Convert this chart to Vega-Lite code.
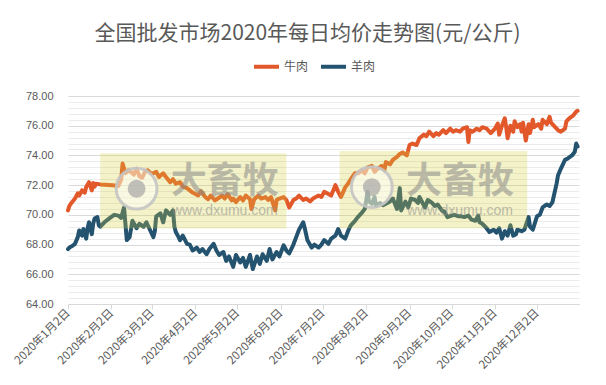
{
"$schema": "https://vega.github.io/schema/vega-lite/v6.json",
"width": 511, "height": 208,
"autosize": {"type": "none"},
"padding": {"left": 68, "top": 96, "right": 27, "bottom": 81},
"background": "white",
"title": {"text": "全国批发市场2020年每日均价走势图(元/公斤)", "fontSize": 21, "color": "#595959", "font": "Noto Sans CJK SC", "fontWeight": "normal", "anchor": "middle", "frame": "group", "offset": 8, "dx": -16},
"config": {"view": {"stroke": null}, "font": "Noto Sans CJK SC"},
"resolve": {"axis": {"y": "independent"}},
"layer": [
{
"data": {"format": {"parse": {"d": "date:'%Y-%m-%d'"}}, "values": [
{"d":"2020-01-02","s":"牛肉","v":70.3},{"d":"2020-01-03","s":"牛肉","v":70.6},{"d":"2020-01-04","s":"牛肉","v":70.75},{"d":"2020-01-07","s":"牛肉","v":71.1},{"d":"2020-01-09","s":"牛肉","v":71.45},{"d":"2020-01-10","s":"牛肉","v":71.3},{"d":"2020-01-12","s":"牛肉","v":71.65},{"d":"2020-01-14","s":"牛肉","v":71.5},{"d":"2020-01-15","s":"牛肉","v":71.87},{"d":"2020-01-17","s":"牛肉","v":72.2},{"d":"2020-01-19","s":"牛肉","v":71.65},{"d":"2020-01-20","s":"牛肉","v":72.15},{"d":"2020-01-21","s":"牛肉","v":71.9},{"d":"2020-01-22","s":"牛肉","v":72.1},{"d":"2020-01-25","s":"牛肉","v":72.05},{"d":"2020-02-03","s":"牛肉","v":72.0},{"d":"2020-02-07","s":"牛肉","v":71.95},{"d":"2020-02-09","s":"牛肉","v":72.4},{"d":"2020-02-10","s":"牛肉","v":73.45},{"d":"2020-02-12","s":"牛肉","v":72.8},{"d":"2020-02-14","s":"牛肉","v":73.0},{"d":"2020-02-16","s":"牛肉","v":72.9},{"d":"2020-02-18","s":"牛肉","v":72.7},{"d":"2020-02-20","s":"牛肉","v":73.1},{"d":"2020-02-22","s":"牛肉","v":72.6},{"d":"2020-02-24","s":"牛肉","v":72.5},{"d":"2020-02-26","s":"牛肉","v":72.9},{"d":"2020-02-28","s":"牛肉","v":73.0},{"d":"2020-03-01","s":"牛肉","v":72.8},{"d":"2020-03-03","s":"牛肉","v":72.8},{"d":"2020-03-05","s":"牛肉","v":72.9},{"d":"2020-03-07","s":"牛肉","v":72.55},{"d":"2020-03-10","s":"牛肉","v":72.8},{"d":"2020-03-12","s":"牛肉","v":72.55},{"d":"2020-03-15","s":"牛肉","v":72.2},{"d":"2020-03-17","s":"牛肉","v":72.4},{"d":"2020-03-19","s":"牛肉","v":72.1},{"d":"2020-03-22","s":"牛肉","v":72.2},{"d":"2020-03-24","s":"牛肉","v":71.9},{"d":"2020-03-27","s":"牛肉","v":71.8},{"d":"2020-03-29","s":"牛肉","v":71.65},{"d":"2020-03-31","s":"牛肉","v":71.5},{"d":"2020-04-04","s":"牛肉","v":71.3},{"d":"2020-04-06","s":"牛肉","v":71.6},{"d":"2020-04-09","s":"牛肉","v":71.2},{"d":"2020-04-11","s":"牛肉","v":71.05},{"d":"2020-04-13","s":"牛肉","v":71.3},{"d":"2020-04-16","s":"牛肉","v":70.97},{"d":"2020-04-18","s":"牛肉","v":71.1},{"d":"2020-04-21","s":"牛肉","v":71.3},{"d":"2020-04-23","s":"牛肉","v":71.1},{"d":"2020-04-25","s":"牛肉","v":71.4},{"d":"2020-04-28","s":"牛肉","v":70.97},{"d":"2020-04-29","s":"牛肉","v":71.1},{"d":"2020-05-01","s":"牛肉","v":70.86},{"d":"2020-05-04","s":"牛肉","v":71.2},{"d":"2020-05-06","s":"牛肉","v":70.97},{"d":"2020-05-08","s":"牛肉","v":71.3},{"d":"2020-05-11","s":"牛肉","v":71.05},{"d":"2020-05-12","s":"牛肉","v":70.4},{"d":"2020-05-14","s":"牛肉","v":71.05},{"d":"2020-05-17","s":"牛肉","v":71.3},{"d":"2020-05-19","s":"牛肉","v":71.1},{"d":"2020-05-22","s":"牛肉","v":71.2},{"d":"2020-05-24","s":"牛肉","v":71.0},{"d":"2020-05-26","s":"牛肉","v":71.2},{"d":"2020-05-29","s":"牛肉","v":70.3},{"d":"2020-05-30","s":"牛肉","v":71.0},{"d":"2020-06-01","s":"牛肉","v":71.1},{"d":"2020-06-04","s":"牛肉","v":71.2},{"d":"2020-06-06","s":"牛肉","v":71.0},{"d":"2020-06-08","s":"牛肉","v":70.5},{"d":"2020-06-11","s":"牛肉","v":71.0},{"d":"2020-06-13","s":"牛肉","v":71.1},{"d":"2020-06-15","s":"牛肉","v":71.3},{"d":"2020-06-18","s":"牛肉","v":71.0},{"d":"2020-06-20","s":"牛肉","v":71.1},{"d":"2020-06-23","s":"牛肉","v":70.9},{"d":"2020-06-25","s":"牛肉","v":71.1},{"d":"2020-06-27","s":"牛肉","v":71.2},{"d":"2020-06-29","s":"牛肉","v":71.3},{"d":"2020-07-01","s":"牛肉","v":71.2},{"d":"2020-07-03","s":"牛肉","v":71.55},{"d":"2020-07-06","s":"牛肉","v":71.4},{"d":"2020-07-08","s":"牛肉","v":71.3},{"d":"2020-07-11","s":"牛肉","v":72.0},{"d":"2020-07-13","s":"牛肉","v":71.55},{"d":"2020-07-15","s":"牛肉","v":71.2},{"d":"2020-07-18","s":"牛肉","v":71.85},{"d":"2020-07-20","s":"牛肉","v":72.1},{"d":"2020-07-22","s":"牛肉","v":72.4},{"d":"2020-07-25","s":"牛肉","v":72.8},{"d":"2020-07-27","s":"牛肉","v":72.8},{"d":"2020-07-30","s":"牛肉","v":73.0},{"d":"2020-08-01","s":"牛肉","v":72.8},{"d":"2020-08-03","s":"牛肉","v":73.2},{"d":"2020-08-06","s":"牛肉","v":73.3},{"d":"2020-08-08","s":"牛肉","v":72.9},{"d":"2020-08-10","s":"牛肉","v":73.1},{"d":"2020-08-13","s":"牛肉","v":73.3},{"d":"2020-08-15","s":"牛肉","v":73.0},{"d":"2020-08-16","s":"牛肉","v":73.55},{"d":"2020-08-19","s":"牛肉","v":73.4},{"d":"2020-08-21","s":"牛肉","v":73.7},{"d":"2020-08-24","s":"牛肉","v":73.9},{"d":"2020-08-26","s":"牛肉","v":74.1},{"d":"2020-08-28","s":"牛肉","v":74.2},{"d":"2020-08-31","s":"牛肉","v":74.0},{"d":"2020-09-02","s":"牛肉","v":74.7},{"d":"2020-09-04","s":"牛肉","v":74.8},{"d":"2020-09-07","s":"牛肉","v":74.7},{"d":"2020-09-09","s":"牛肉","v":75.15},{"d":"2020-09-12","s":"牛肉","v":75.4},{"d":"2020-09-14","s":"牛肉","v":75.3},{"d":"2020-09-16","s":"牛肉","v":75.6},{"d":"2020-09-19","s":"牛肉","v":75.3},{"d":"2020-09-21","s":"牛肉","v":75.5},{"d":"2020-09-23","s":"牛肉","v":75.4},{"d":"2020-09-26","s":"牛肉","v":75.7},{"d":"2020-09-28","s":"牛肉","v":75.5},{"d":"2020-10-01","s":"牛肉","v":75.8},{"d":"2020-10-03","s":"牛肉","v":75.6},{"d":"2020-10-05","s":"牛肉","v":75.7},{"d":"2020-10-08","s":"牛肉","v":75.6},{"d":"2020-10-10","s":"牛肉","v":75.8},{"d":"2020-10-13","s":"牛肉","v":75.9},{"d":"2020-10-14","s":"牛肉","v":74.9},{"d":"2020-10-15","s":"牛肉","v":75.7},{"d":"2020-10-17","s":"牛肉","v":75.6},{"d":"2020-10-20","s":"牛肉","v":75.8},{"d":"2020-10-22","s":"牛肉","v":75.7},{"d":"2020-10-24","s":"牛肉","v":75.9},{"d":"2020-10-27","s":"牛肉","v":75.8},{"d":"2020-10-28","s":"牛肉","v":75.7},{"d":"2020-10-30","s":"牛肉","v":75.5},{"d":"2020-11-02","s":"牛肉","v":75.8},{"d":"2020-11-04","s":"牛肉","v":76.15},{"d":"2020-11-05","s":"牛肉","v":75.4},{"d":"2020-11-07","s":"牛肉","v":76.0},{"d":"2020-11-09","s":"牛肉","v":76.5},{"d":"2020-11-10","s":"牛肉","v":75.9},{"d":"2020-11-11","s":"牛肉","v":75.15},{"d":"2020-11-13","s":"牛肉","v":76.0},{"d":"2020-11-15","s":"牛肉","v":75.6},{"d":"2020-11-16","s":"牛肉","v":76.3},{"d":"2020-11-18","s":"牛肉","v":75.9},{"d":"2020-11-20","s":"牛肉","v":76.1},{"d":"2020-11-21","s":"牛肉","v":75.6},{"d":"2020-11-22","s":"牛肉","v":76.2},{"d":"2020-11-24","s":"牛肉","v":75.0},{"d":"2020-11-26","s":"牛肉","v":76.1},{"d":"2020-11-27","s":"牛肉","v":75.5},{"d":"2020-11-29","s":"牛肉","v":76.4},{"d":"2020-11-30","s":"牛肉","v":75.9},{"d":"2020-12-03","s":"牛肉","v":76.1},{"d":"2020-12-05","s":"牛肉","v":75.8},{"d":"2020-12-06","s":"牛肉","v":76.4},{"d":"2020-12-09","s":"牛肉","v":76.1},{"d":"2020-12-11","s":"牛肉","v":76.6},{"d":"2020-12-12","s":"牛肉","v":76.2},{"d":"2020-12-15","s":"牛肉","v":75.9},{"d":"2020-12-17","s":"牛肉","v":75.7},{"d":"2020-12-19","s":"牛肉","v":75.6},{"d":"2020-12-22","s":"牛肉","v":75.8},{"d":"2020-12-23","s":"牛肉","v":76.3},{"d":"2020-12-25","s":"牛肉","v":76.5},{"d":"2020-12-28","s":"牛肉","v":76.7},{"d":"2020-12-30","s":"牛肉","v":76.95},{"d":"2020-12-31","s":"牛肉","v":77.0},
{"d":"2020-01-02","s":"羊肉","v":67.7},{"d":"2020-01-03","s":"羊肉","v":67.8},{"d":"2020-01-05","s":"羊肉","v":67.9},{"d":"2020-01-07","s":"羊肉","v":68.05},{"d":"2020-01-09","s":"羊肉","v":68.5},{"d":"2020-01-10","s":"羊肉","v":68.95},{"d":"2020-01-12","s":"羊肉","v":68.6},{"d":"2020-01-13","s":"羊肉","v":69.05},{"d":"2020-01-15","s":"羊肉","v":68.4},{"d":"2020-01-16","s":"羊肉","v":69.1},{"d":"2020-01-17","s":"羊肉","v":69.5},{"d":"2020-01-19","s":"羊肉","v":68.7},{"d":"2020-01-20","s":"羊肉","v":69.4},{"d":"2020-01-21","s":"羊肉","v":69.75},{"d":"2020-01-23","s":"羊肉","v":69.85},{"d":"2020-01-24","s":"羊肉","v":69.3},{"d":"2020-01-25","s":"羊肉","v":69.2},{"d":"2020-01-28","s":"羊肉","v":69.5},{"d":"2020-02-01","s":"羊肉","v":69.8},{"d":"2020-02-04","s":"羊肉","v":70.0},{"d":"2020-02-07","s":"羊肉","v":69.95},{"d":"2020-02-09","s":"羊肉","v":69.8},{"d":"2020-02-11","s":"羊肉","v":70.5},{"d":"2020-02-13","s":"羊肉","v":68.3},{"d":"2020-02-15","s":"羊肉","v":68.5},{"d":"2020-02-17","s":"羊肉","v":69.6},{"d":"2020-02-20","s":"羊肉","v":69.1},{"d":"2020-02-22","s":"羊肉","v":69.4},{"d":"2020-02-25","s":"羊肉","v":69.2},{"d":"2020-02-27","s":"羊肉","v":69.5},{"d":"2020-02-29","s":"羊肉","v":69.1},{"d":"2020-03-03","s":"羊肉","v":68.5},{"d":"2020-03-04","s":"羊肉","v":68.9},{"d":"2020-03-05","s":"羊肉","v":69.9},{"d":"2020-03-08","s":"羊肉","v":70.1},{"d":"2020-03-10","s":"羊肉","v":69.5},{"d":"2020-03-12","s":"羊肉","v":70.3},{"d":"2020-03-15","s":"羊肉","v":70.0},{"d":"2020-03-17","s":"羊肉","v":70.3},{"d":"2020-03-18","s":"羊肉","v":69.2},{"d":"2020-03-19","s":"羊肉","v":68.85},{"d":"2020-03-21","s":"羊肉","v":68.5},{"d":"2020-03-22","s":"羊肉","v":68.3},{"d":"2020-03-24","s":"羊肉","v":68.6},{"d":"2020-03-27","s":"羊肉","v":68.05},{"d":"2020-03-29","s":"羊肉","v":68.0},{"d":"2020-03-31","s":"羊肉","v":67.6},{"d":"2020-04-03","s":"羊肉","v":67.8},{"d":"2020-04-05","s":"羊肉","v":67.5},{"d":"2020-04-07","s":"羊肉","v":67.7},{"d":"2020-04-10","s":"羊肉","v":67.35},{"d":"2020-04-12","s":"羊肉","v":67.7},{"d":"2020-04-15","s":"羊肉","v":68.05},{"d":"2020-04-17","s":"羊肉","v":67.6},{"d":"2020-04-19","s":"羊肉","v":67.3},{"d":"2020-04-22","s":"羊肉","v":67.5},{"d":"2020-04-24","s":"羊肉","v":66.9},{"d":"2020-04-26","s":"羊肉","v":67.2},{"d":"2020-04-29","s":"羊肉","v":66.5},{"d":"2020-05-01","s":"羊肉","v":67.3},{"d":"2020-05-04","s":"羊肉","v":66.8},{"d":"2020-05-06","s":"羊肉","v":67.1},{"d":"2020-05-08","s":"羊肉","v":66.5},{"d":"2020-05-11","s":"羊肉","v":67.3},{"d":"2020-05-13","s":"羊肉","v":66.35},{"d":"2020-05-16","s":"羊肉","v":67.2},{"d":"2020-05-18","s":"羊肉","v":66.7},{"d":"2020-05-20","s":"羊肉","v":67.35},{"d":"2020-05-23","s":"羊肉","v":66.9},{"d":"2020-05-25","s":"羊肉","v":67.7},{"d":"2020-05-27","s":"羊肉","v":67.0},{"d":"2020-05-30","s":"羊肉","v":67.5},{"d":"2020-06-01","s":"羊肉","v":67.2},{"d":"2020-06-04","s":"羊肉","v":67.95},{"d":"2020-06-06","s":"羊肉","v":67.6},{"d":"2020-06-08","s":"羊肉","v":67.4},{"d":"2020-06-11","s":"羊肉","v":68.0},{"d":"2020-06-13","s":"羊肉","v":68.5},{"d":"2020-06-15","s":"羊肉","v":69.0},{"d":"2020-06-18","s":"羊肉","v":69.5},{"d":"2020-06-19","s":"羊肉","v":69.15},{"d":"2020-06-21","s":"羊肉","v":68.3},{"d":"2020-06-24","s":"羊肉","v":67.8},{"d":"2020-06-26","s":"羊肉","v":68.0},{"d":"2020-06-29","s":"羊肉","v":67.8},{"d":"2020-07-01","s":"羊肉","v":68.0},{"d":"2020-07-03","s":"羊肉","v":68.3},{"d":"2020-07-06","s":"羊肉","v":68.05},{"d":"2020-07-08","s":"羊肉","v":68.4},{"d":"2020-07-11","s":"羊肉","v":68.6},{"d":"2020-07-13","s":"羊肉","v":69.05},{"d":"2020-07-15","s":"羊肉","v":68.6},{"d":"2020-07-18","s":"羊肉","v":68.4},{"d":"2020-07-20","s":"羊肉","v":68.9},{"d":"2020-07-22","s":"羊肉","v":69.3},{"d":"2020-07-25","s":"羊肉","v":69.6},{"d":"2020-07-27","s":"羊肉","v":69.85},{"d":"2020-07-30","s":"羊肉","v":70.15},{"d":"2020-08-01","s":"羊肉","v":70.4},{"d":"2020-08-03","s":"羊肉","v":71.55},{"d":"2020-08-04","s":"羊肉","v":70.9},{"d":"2020-08-06","s":"羊肉","v":70.75},{"d":"2020-08-08","s":"羊肉","v":71.2},{"d":"2020-08-09","s":"羊肉","v":70.6},{"d":"2020-08-12","s":"羊肉","v":70.8},{"d":"2020-08-14","s":"羊肉","v":70.65},{"d":"2020-08-16","s":"羊肉","v":70.75},{"d":"2020-08-19","s":"羊肉","v":70.9},{"d":"2020-08-21","s":"羊肉","v":71.1},{"d":"2020-08-24","s":"羊肉","v":70.4},{"d":"2020-08-26","s":"羊肉","v":71.8},{"d":"2020-08-27","s":"羊肉","v":70.3},{"d":"2020-08-30","s":"羊肉","v":70.9},{"d":"2020-09-01","s":"羊肉","v":70.5},{"d":"2020-09-03","s":"羊肉","v":71.1},{"d":"2020-09-06","s":"羊肉","v":71.0},{"d":"2020-09-08","s":"羊肉","v":70.8},{"d":"2020-09-09","s":"羊肉","v":71.2},{"d":"2020-09-13","s":"羊肉","v":70.5},{"d":"2020-09-15","s":"羊肉","v":71.0},{"d":"2020-09-18","s":"羊肉","v":70.8},{"d":"2020-09-20","s":"羊肉","v":70.6},{"d":"2020-09-22","s":"羊肉","v":70.7},{"d":"2020-09-25","s":"羊肉","v":70.3},{"d":"2020-09-27","s":"羊肉","v":70.2},{"d":"2020-09-29","s":"羊肉","v":69.85},{"d":"2020-10-02","s":"羊肉","v":69.95},{"d":"2020-10-04","s":"羊肉","v":70.0},{"d":"2020-10-07","s":"羊肉","v":69.9},{"d":"2020-10-09","s":"羊肉","v":69.9},{"d":"2020-10-11","s":"羊肉","v":69.85},{"d":"2020-10-14","s":"羊肉","v":69.95},{"d":"2020-10-16","s":"羊肉","v":69.7},{"d":"2020-10-19","s":"羊肉","v":69.6},{"d":"2020-10-21","s":"羊肉","v":69.95},{"d":"2020-10-22","s":"羊肉","v":69.5},{"d":"2020-10-24","s":"羊肉","v":69.4},{"d":"2020-10-27","s":"羊肉","v":69.1},{"d":"2020-10-29","s":"羊肉","v":68.85},{"d":"2020-11-01","s":"羊肉","v":69.0},{"d":"2020-11-03","s":"羊肉","v":68.8},{"d":"2020-11-05","s":"羊肉","v":69.1},{"d":"2020-11-07","s":"羊肉","v":68.4},{"d":"2020-11-09","s":"羊肉","v":68.9},{"d":"2020-11-11","s":"羊肉","v":68.6},{"d":"2020-11-13","s":"羊肉","v":69.3},{"d":"2020-11-15","s":"羊肉","v":68.6},{"d":"2020-11-17","s":"羊肉","v":68.7},{"d":"2020-11-18","s":"羊肉","v":69.0},{"d":"2020-11-21","s":"羊肉","v":68.9},{"d":"2020-11-23","s":"羊肉","v":69.0},{"d":"2020-11-26","s":"羊肉","v":69.85},{"d":"2020-11-27","s":"羊肉","v":69.2},{"d":"2020-11-29","s":"羊肉","v":69.0},{"d":"2020-12-02","s":"羊肉","v":69.9},{"d":"2020-12-04","s":"羊肉","v":70.0},{"d":"2020-12-06","s":"羊肉","v":70.5},{"d":"2020-12-09","s":"羊肉","v":70.7},{"d":"2020-12-11","s":"羊肉","v":70.6},{"d":"2020-12-13","s":"羊肉","v":70.85},{"d":"2020-12-16","s":"羊肉","v":72.1},{"d":"2020-12-17","s":"羊肉","v":72.65},{"d":"2020-12-19","s":"羊肉","v":73.1},{"d":"2020-12-22","s":"羊肉","v":73.7},{"d":"2020-12-24","s":"羊肉","v":73.8},{"d":"2020-12-27","s":"羊肉","v":74.0},{"d":"2020-12-29","s":"羊肉","v":74.25},{"d":"2020-12-30","s":"羊肉","v":74.8},{"d":"2020-12-31","s":"羊肉","v":74.6}
]},
"mark": {"type": "line", "strokeWidth": 4, "strokeJoin": "round", "strokeCap": "round"},
"encoding": {
"x": {"field": "d", "type": "temporal", "title": null,
 "scale": {"domain": [{"year": 2020, "month": 1, "date": 2}, {"year": 2021, "month": 1, "date": 1}]},
 "axis": {"values": [{"year":2020,"month":1,"date":2},{"year":2020,"month":2,"date":2},{"year":2020,"month":3,"date":2},{"year":2020,"month":4,"date":2},{"year":2020,"month":5,"date":2},{"year":2020,"month":6,"date":2},{"year":2020,"month":7,"date":2},{"year":2020,"month":8,"date":2},{"year":2020,"month":9,"date":2},{"year":2020,"month":10,"date":2},{"year":2020,"month":11,"date":2},{"year":2020,"month":12,"date":2}],
  "labelExpr": "year(datum.value) + '年' + (month(datum.value) + 1) + '月' + date(datum.value) + '日'",
  "labelAngle": -45, "labelAlign": "right", "labelBaseline": "middle", "labelFontSize": 11.5, "labelColor": "#595959", "labelFont": "Noto Sans CJK SC",
  "grid": false, "domainColor": "#D9D9D9", "tickColor": "#D9D9D9", "tickSize": 5, "labelPadding": 2, "labelOverlap": false, "labelBound": false, "labelFlush": false}},
"y": {"field": "v", "type": "quantitative", "title": null,
 "scale": {"domain": [64, 78], "nice": false, "zero": false},
 "axis": {"values": [64, 66, 68, 70, 72, 74, 76, 78], "format": ".2f", "labelOverlap": false,
  "domain": false, "ticks": false, "labelPadding": 15, "labelFontSize": 11, "labelColor": "#595959", "labelFont": "Liberation Sans",
  "grid": true, "gridColor": "#D9D9D9", "gridWidth": 1}},
"color": {"field": "s", "type": "nominal", "title": null,
 "scale": {"domain": ["牛肉", "羊肉"], "range": ["#E2582A", "#245370"]},
 "legend": {"orient": "none", "legendX": 184, "legendY": -44, "direction": "horizontal", "symbolType": "stroke", "symbolStrokeWidth": 4, "symbolSize": 625, "labelFontSize": 12, "labelColor": "#595959", "labelFont": "Noto Sans CJK SC", "columnPadding": 4, "padding": 0, "labelOffset": 3}}
}
},
{
"data": {"format": {"parse": {"a": "date:'%Y-%m-%d'", "b": "date:'%Y-%m-%d'"}}, "values": [
{"a": "2020-01-25", "b": "2020-06-06", "lo": 69.08, "hi": 74.15},
{"a": "2020-07-14", "b": "2020-11-25", "lo": 69.1, "hi": 74.3}
]},
"mark": {"type": "rect", "fill": "#D8CF3A", "opacity": 0.28},
"encoding": {"x": {"field": "a", "type": "temporal"}, "x2": {"field": "b"},
 "y": {"field": "lo", "type": "quantitative", "axis": {"orient": "left", "values": [64.4,64.8,65.2,65.6,66.4,66.8,67.2,67.6,68.4,68.8,69.2,69.6,70.4,70.8,71.2,71.6,72.4,72.8,73.2,73.6,74.4,74.8,75.2,75.6,76.4,76.8,77.2,77.6], "labels": false, "ticks": false, "domain": false, "title": null, "grid": true, "gridColor": "#EBEBEB", "gridWidth": 1}},
 "y2": {"field": "hi"}}
},
{
"data": {"format": {"parse": {"d": "date:'%Y-%m-%d'"}}, "values": [
{"d": "2020-02-20", "v": 71.76, "k": "ring"}, {"d": "2020-08-06", "v": 71.87, "k": "ring"}
]},
"mark": {"type": "circle", "size": 1660, "color": "#FFFFFF", "opacity": 1, "fillOpacity": 0.45, "stroke": "#C4C4C4", "strokeWidth": 3, "strokeOpacity": 0.9},
"encoding": {"x": {"field": "d", "type": "temporal"}, "y": {"field": "v", "type": "quantitative", "axis": null}}
},
{
"data": {"format": {"parse": {"d": "date:'%Y-%m-%d'"}}, "values": [
{"d": "2020-02-20", "v": 71.76, "k": "dot"}, {"d": "2020-08-06", "v": 71.87, "k": "dot"}
]},
"mark": {"type": "circle", "size": 320, "color": "#A6A6A6", "opacity": 0.7},
"encoding": {"x": {"field": "d", "type": "temporal"}, "y": {"field": "v", "type": "quantitative", "axis": null}}
},
{
"data": {"format": {"parse": {"d": "date:'%Y-%m-%d'"}}, "values": [
{"d": "2020-04-23", "v": 72.2, "t": "大畜牧"}, {"d": "2020-10-08", "v": 72.2, "t": "大畜牧"}
]},
"mark": {"type": "text", "fontSize": 36, "fontWeight": "bold", "font": "Noto Sans CJK SC", "fill": "#8C8C8C", "opacity": 0.55, "align": "center", "baseline": "middle"},
"encoding": {"x": {"field": "d", "type": "temporal"}, "y": {"field": "v", "type": "quantitative", "axis": null}, "text": {"field": "t"}}
},
{
"data": {"format": {"parse": {"d": "date:'%Y-%m-%d'"}}, "values": [
{"d": "2020-04-23", "v": 70.25, "t": "www.dxumu.com"}, {"d": "2020-10-08", "v": 70.25, "t": "www.dxumu.com"}
]},
"mark": {"type": "text", "fontSize": 14, "font": "Liberation Sans", "fill": "#8C8C8C", "opacity": 0.55, "align": "center", "baseline": "middle"},
"encoding": {"x": {"field": "d", "type": "temporal"}, "y": {"field": "v", "type": "quantitative", "axis": null}, "text": {"field": "t"}}
}
]
}
